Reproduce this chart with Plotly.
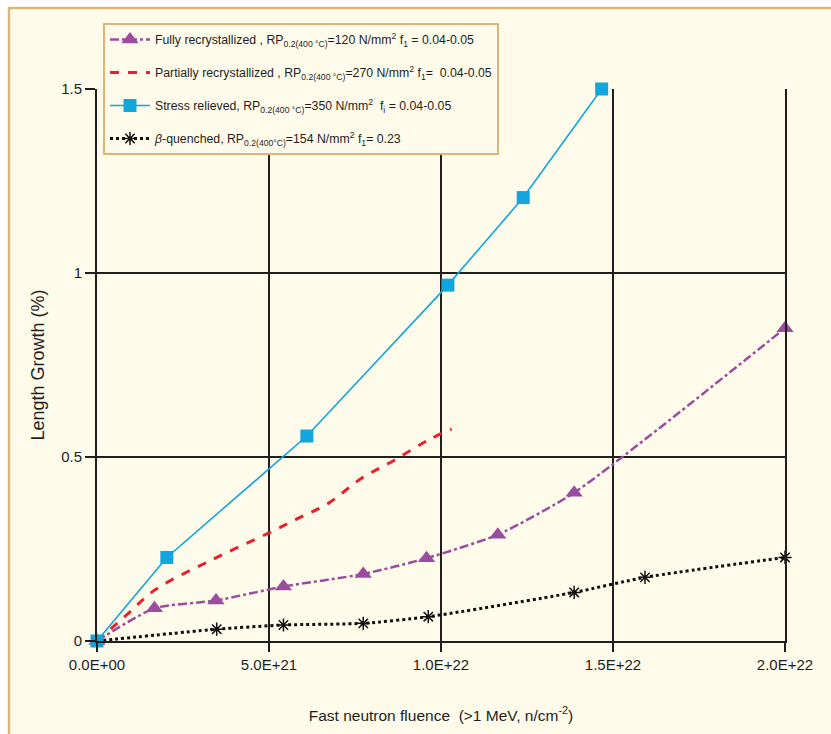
import plotly.graph_objects as go

# Fast neutron fluence (n/cm^2) and length growth (%) per material condition
fully_x = [0, 1.67e21, 3.46e21, 5.42e21, 7.74e21, 9.58e21, 1.165e22, 1.387e22, 2.0e22]
fully_y = [0, 0.089, 0.110, 0.148, 0.182, 0.225, 0.289, 0.403, 0.85]

partial_x = [0, 0.91e21, 1.69e21, 3.33e21, 4.98e21, 5.95e21, 6.72e21, 7.69e21, 8.66e21, 9.63e21, 1.031e22]
partial_y = [0, 0.075, 0.139, 0.220, 0.293, 0.338, 0.374, 0.442, 0.492, 0.546, 0.576]

stress_x = [0, 2.03e21, 6.1e21, 1.02e22, 1.239e22, 1.467e22]
stress_y = [0, 0.227, 0.557, 0.967, 1.205, 1.5]

beta_x = [0, 3.48e21, 5.42e21, 7.74e21, 9.63e21, 1.387e22, 1.593e22, 2.0e22]
beta_y = [0, 0.032, 0.0435, 0.048, 0.066, 0.132, 0.173, 0.227]

x_ticks = [0, 5e21, 1e22, 1.5e22, 2e22]
x_tick_text = ["0.0E+00", "5.0E+21", "1.0E+22", "1.5E+22", "2.0E+22"]
y_ticks = [0, 0.5, 1, 1.5]
y_tick_text = ["0", "0.5", "1", "1.5"]

names = [
    "Fully recrystallized , RP<sub>0.2(400 °C)</sub>=120 N/mm<sup>2</sup> f<sub>1</sub> = 0.04-0.05",
    "Partially recrystallized , RP<sub>0.2(400 °C)</sub>=270 N/mm<sup>2</sup> f<sub>1</sub>=  0.04-0.05",
    "Stress relieved, RP<sub>0.2(400 °C)</sub>=350 N/mm<sup>2</sup>  f<sub>i</sub> = 0.04-0.05",
    "<i>β</i>-quenched, RP<sub>0.2(400°C)</sub>=154 N/mm<sup>2</sup> f<sub>1</sub>= 0.23",
]

FONT = "Liberation Sans, Arial, sans-serif"
CREAM = "#FEFBEA"
TAN = "#DDB47A"
GRID = "#1f1f1f"
TEXT = "#1e1e1e"

fig = go.Figure()

fig.add_trace(go.Scatter(
    x=fully_x, y=fully_y, name=names[0], mode="lines+markers", legendgroup="a",
    line=dict(color="#9A4C9E", width=2.5, dash="dashdot", shape="spline", smoothing=0.6),
    marker=dict(symbol="triangle-up", size=15, color="#9A4C9E"),
    cliponaxis=False,
))
fig.add_trace(go.Scatter(
    x=partial_x, y=partial_y, name=names[1], mode="lines", legendgroup="b",
    line=dict(color="#E8202A", width=3, dash="dash", shape="spline", smoothing=1.0),
    cliponaxis=False,
))
fig.add_trace(go.Scatter(
    x=beta_x, y=beta_y, name=names[3], mode="lines+markers", legendgroup="d",
    line=dict(color="#111111", width=3, dash="dot", shape="spline", smoothing=0.6),
    marker=dict(symbol="asterisk-open", size=11, color="#111111", line=dict(width=1.5, color="#111111")),
    cliponaxis=False,
))
fig.add_trace(go.Scatter(
    x=stress_x, y=stress_y, name=names[2], mode="lines+markers", legendgroup="c",
    line=dict(color="#12A6DC", width=1.6),
    marker=dict(symbol="square", size=13, color="#12A6DC"),
    cliponaxis=False,
))

# legend order: fully, partially, stress relieved, beta-quenched
fig.data[0].legendrank = 1
fig.data[1].legendrank = 2
fig.data[3].legendrank = 3
fig.data[2].legendrank = 4

W, H = 831, 734
L, R, T, B = 97, 46, 89, 93
pw, ph = W - L - R, H - T - B

def px_x(p):
    return (p - L) / pw

def px_y(p):
    return (H - B - p) / ph

# cream panel with a tan frame behind the whole chart
fig.add_shape(type="rect", xref="paper", yref="paper",
              x0=px_x(9), x1=px_x(W + 20), y0=px_y(H + 20), y1=px_y(8),
              fillcolor=CREAM, line=dict(color=TAN, width=2.5), layer="below")

fig.update_layout(
    width=W, height=H,
    margin=dict(l=L, r=R, t=T, b=B),
    paper_bgcolor="white",
    plot_bgcolor="rgba(0,0,0,0)",
    font=dict(family=FONT, size=14, color=TEXT),
    showlegend=True,
    legend=dict(
        x=px_x(103), y=px_y(23), xanchor="left", yanchor="top",
        bgcolor=CREAM, bordercolor=TAN, borderwidth=2,
        font=dict(family=FONT, size=12.3, color=TEXT),
        itemwidth=40, traceorder="grouped", tracegroupgap=14,
    ),
    xaxis=dict(
        range=[0, 2e22], tickvals=x_ticks, ticktext=x_tick_text,
        showgrid=True, gridcolor=GRID, gridwidth=2,
        showline=True, linecolor=GRID, linewidth=2,
        ticks="outside", ticklen=9, tickwidth=2, tickcolor=GRID,
        zeroline=False,
        tickfont=dict(family=FONT, size=15, color=TEXT),
        title=dict(text="Fast neutron fluence  (>1 MeV, n/cm<sup>-2</sup>)",
                   font=dict(family=FONT, size=15.5, color=TEXT), standoff=38),
    ),
    yaxis=dict(
        range=[0, 1.5], tickvals=y_ticks, ticktext=y_tick_text,
        showgrid=True, gridcolor=GRID, gridwidth=2,
        showline=True, linecolor=GRID, linewidth=2, mirror=True,
        ticks="outside", ticklen=10, tickwidth=2, tickcolor=GRID,
        zeroline=False,
        tickfont=dict(family=FONT, size=15, color=TEXT),
        title=dict(text="Length Growth (%)",
                   font=dict(family=FONT, size=18, color=TEXT), standoff=12),
    ),
)

fig.write_html("out.html")
